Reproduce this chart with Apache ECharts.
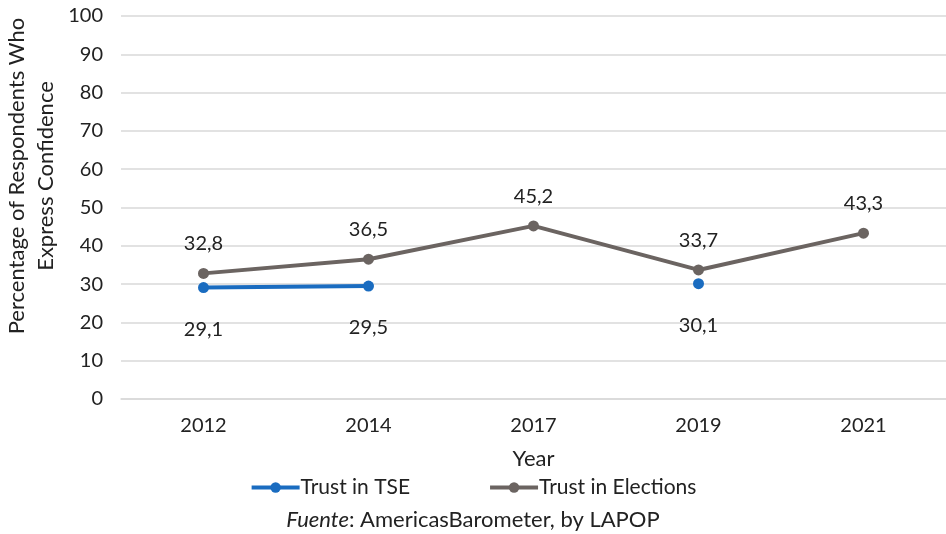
<!DOCTYPE html>
<html><head><meta charset="utf-8">
<script src="https://cdn.jsdelivr.net/npm/echarts@6/dist/echarts.min.js"></script>
<style>html,body{margin:0;padding:0;background:#fff}#c{width:946px;height:534px}</style>
</head><body><div id="c"></div>
<script>
const categories = ['2012', '2014', '2017', '2019', '2021'];
const trustTSE = [29.1, 29.5, null, 30.1, null];
const trustElections = [32.8, 36.5, 45.2, 33.7, 43.3];
const yTicks = [0, 10, 20, 30, 40, 50, 60, 70, 80, 90, 100];

const font = 'Lato, "Open Sans", sans-serif';
const fmt = p => String(p.value).replace('.', ',');
const chart = echarts.init(document.getElementById('c'));
chart.setOption({
  animation: false,
  textStyle: { fontFamily: font },
  grid: { left: 121, right: 0, top: 16, bottom: 135 },
  xAxis: {
    type: 'category', data: categories,
    axisLine: { lineStyle: { color: '#d9d9d9', width: 1.5 } },
    axisTick: { show: false },
    axisLabel: { color: '#222', fontSize: 20, fontFamily: font, margin: 17 },
    name: 'Year', nameLocation: 'middle', nameGap: 49,
    nameTextStyle: { color: '#222', fontSize: 22, fontFamily: font }
  },
  yAxis: {
    type: 'value', min: yTicks[0], max: yTicks[yTicks.length - 1], interval: 10,
    axisLine: { show: false }, axisTick: { show: false },
    splitLine: { lineStyle: { color: '#d9d9d9', width: 1.5 } },
    axisLabel: { color: '#222', fontSize: 20, fontFamily: font, margin: 18 }
  },
  legend: {
    bottom: 31, itemGap: 78, itemWidth: 48, itemHeight: 13,
    lineStyle: { width: 4 },
    textStyle: { color: '#222', fontSize: 21, fontFamily: font, padding: [0, 0, 0, -4] },
    data: ['Trust in TSE', 'Trust in Elections']
  },
  graphic: [
    { type: 'text', left: 'center', top: 509,
      style: { rich: { i: { fontStyle: 'italic', fontSize: 22, fill: '#222', fontFamily: font }, n: { fontSize: 22, fill: '#222', fontFamily: font } },
        text: '{i|Fuente}{n|: AmericasBarometer, by LAPOP}' } },
    { type: 'text', x: 31, y: 176, rotation: Math.PI / 2,
      style: { text: 'Percentage of Respondents Who\nExpress Confidence', fontSize: 22, fill: '#222', fontFamily: font,
        align: 'center', verticalAlign: 'middle', lineHeight: 29 } }
  ],
  series: [
    { name: 'Trust in TSE', type: 'line', data: trustTSE, connectNulls: false,
      color: '#1a6cc0', lineStyle: { width: 4 }, symbol: 'circle', symbolSize: 11,
      label: { show: true, position: 'bottom', distance: 26, fontSize: 20, color: '#222', fontFamily: font, formatter: fmt } },
    { name: 'Trust in Elections', type: 'line', data: trustElections,
      color: '#6b6461', lineStyle: { width: 4 }, symbol: 'circle', symbolSize: 11,
      label: { show: true, position: 'top', distance: 14, fontSize: 20, color: '#222', fontFamily: font, formatter: fmt } }
  ]
});
</script></body></html>
